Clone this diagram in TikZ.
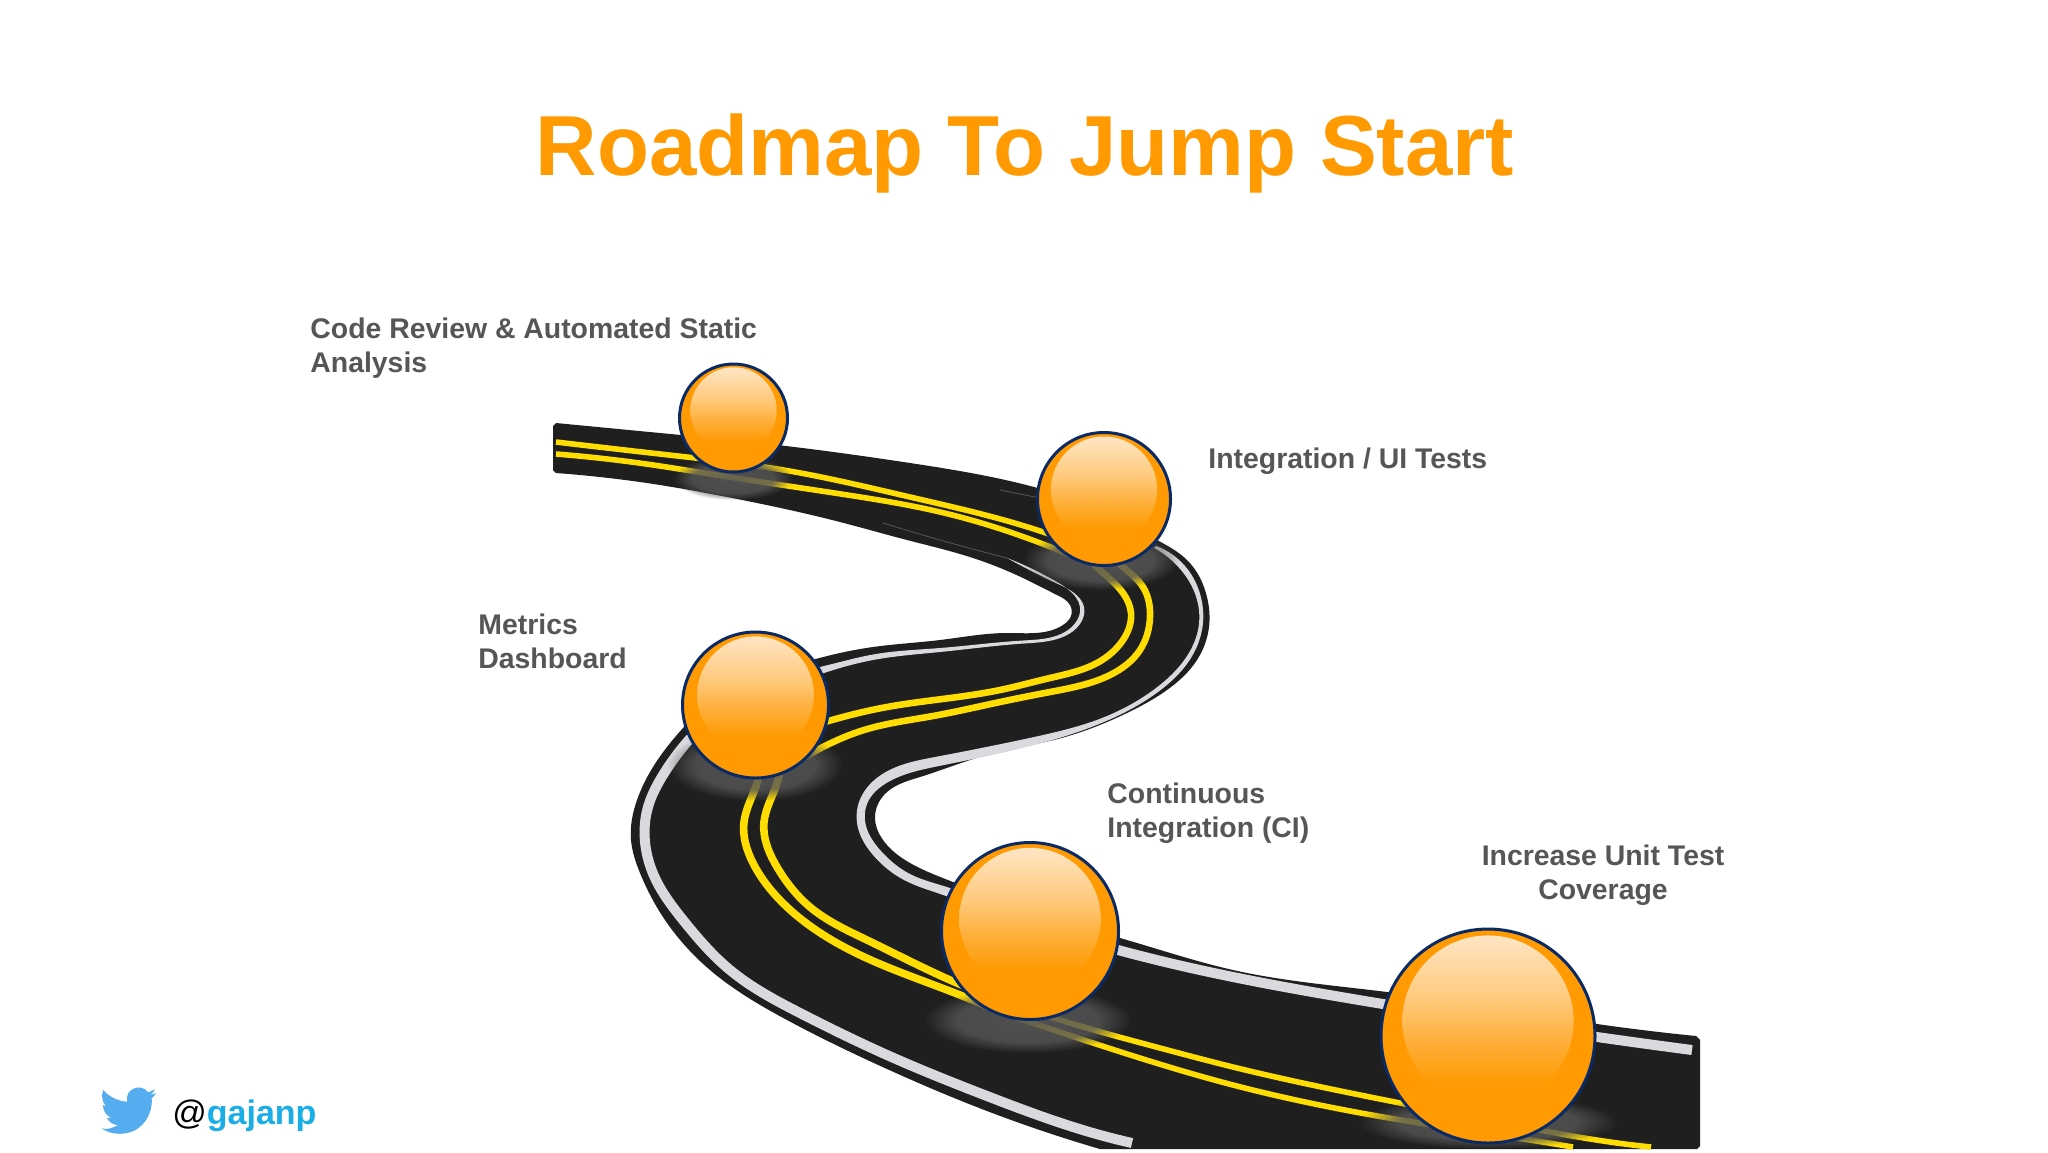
\documentclass[tikz,border=0pt]{standalone}
\usepackage{fontspec}
\setmainfont{Liberation Sans}
\usetikzlibrary{fadings,hobby}

\definecolor{roadblack}{HTML}{1F1F20}
\definecolor{stripegrey}{HTML}{DADADE}
\definecolor{lineyellow}{HTML}{FFDD00}
\definecolor{ballorange}{HTML}{FF9A03}
\definecolor{ballblue}{HTML}{0A2A66}
\definecolor{blobgrey}{HTML}{565656}
\definecolor{labelgrey}{HTML}{565658}
\definecolor{handleblue}{HTML}{1AADE6}
\definecolor{birdblue}{HTML}{55ACEE}
\definecolor{glowlow}{HTML}{FFB241}
\definecolor{glowmid}{HTML}{FFC878}
\definecolor{glowtop}{HTML}{FFE8CC}

\pgfdeclareverticalshading{ballglow}{100bp}{
  color(0bp)=(ballorange); color(39bp)=(ballorange);
  color(50bp)=(glowlow); color(58bp)=(glowmid);
  color(75bp)=(glowtop); color(100bp)=(glowtop)}
\pgfdeclareradialshading{softblobshade}{\pgfpointorigin}{
  color(0bp)=(pgftransparent!10); color(17bp)=(pgftransparent!20);
  color(25bp)=(pgftransparent!100); color(50bp)=(pgftransparent!100)}
\pgfdeclarefading{softblob}{\pgfuseshading{softblobshade}}

\begin{document}
\begin{tikzpicture}[x=0.5pt,y=-0.5pt,use Hobby shortcut,
            yellowline/.style={draw=lineyellow,line width=#1},
            greyline/.style={draw=stripegrey,line width=#1},
            blob/.style={fill=blobgrey,path fading=softblob},
            ball/.style={circle,draw=ballblue,line width=1.5pt,fill=ballorange,inner sep=0pt,
                minimum size=#1 pt,
                path picture={\shade[shading=ballglow]
                    ([yshift={0.07*#1 pt}]path picture bounding box.center) circle ({0.4*#1 pt});}},
            mark text/.style={font=\bfseries\fontsize{14.2}{17}\selectfont,text=labelgrey,inner sep=0pt}]
            \useasboundingbox[fill=white] (0,0) rectangle (2048,1152);

            \node[font=\bfseries\fontsize{42.6}{50}\selectfont,text=ballorange,anchor=base,inner sep=0pt]
                (title) at (1025,175) {Roadmap To Jump Start};

            % road surface
            \fill[roadblack]
                (556,423) .. (660,433) .. (786,446) .. (910,463) .. (1034,487) .. (1100,510)
                    .. (1157,540) .. (1187,560) .. (1207,597) .. (1209,627) .. (1197,660) .. (1167,690) .. (1127,713)
                    .. (1065,737) .. (980,757) .. (920,777) .. (887,792) .. (875,817) .. (883,840) .. (910,863)
                    .. (953,882) .. (1030,912) .. (1120,938) .. (1233,970) .. (1387,992) .. (1597,1024) .. (1696,1036)
                -- (1700,1040) -- (1700,1146) -- (1697,1149) -- (1100,1149)
                .. (987,1111) .. (887,1069) .. (787,1020) .. (710,970) .. (663,917)
                    .. (640,873) .. (631,840) .. (637,800) .. (653,767) .. (683,728) .. (730,688) .. (790,666)
                    .. (840,653) .. (873,647) .. (940,640) .. (1007,633) .. (1063,625) .. (1071,616) .. (1070,605)
                    .. (1057,595) .. (1023,578) .. (973,558) .. (907,540) .. (840,522) .. (727,497) .. (660,485) .. (556,473)
                -- (553,470) -- (553,426) -- cycle;

            % grey edge lines
            \draw[greyline=5pt] (700,728) .. (663,775) .. (648,807) .. (645,842) .. (655,878)
                .. (683,920) .. (730,970) .. (800,1013) .. (887,1055) .. (987,1096) .. (1100,1135) .. (1132,1143);
            \draw[greyline=5pt] (1100,945) .. (1118,950) .. (1233,977) .. (1383,1004)
                .. (1597,1037) .. (1692,1050);
            \fill[stripegrey]
                (1156,546) .. (1185,566) .. (1202,602) .. (1202,630) .. (1189,661) .. (1158,692)
                    .. (1104,722) .. (1038,744) .. (939,766) .. (890,781) .. (867,804) .. (866,826) .. (881,851)
                    .. (910,874) .. (950,888) .. (980,901)
                -- (976,909) .. (946,896) .. (904,880) .. (873,855) .. (858,828) .. (859,802) .. (884,773)
                    .. (935,757) .. (1034,737) .. (1102,718) .. (1156,688) .. (1185,659) .. (1198,630) .. (1198,604)
                    .. (1181,570) .. (1154,548)
                -- cycle;
            \fill[stripegrey]
                (1007,558) .. (1057,583.5) .. (1078,596.5) .. (1084,607) .. (1080,624) .. (1064,636.5)
                    .. (1024,643.5) .. (940,652) .. (873,660) .. (840,668) .. (800,682)
                -- (800,672) .. (840,662) .. (873,654.5) .. (940,648) .. (1023,640.5) .. (1062,633.5)
                    .. (1076,622) .. (1080,607) .. (1076,597.5) .. (1057,582) .. (1007,558) -- cycle;
            \draw[stripegrey!30!roadblack,line width=0.4pt] (883,523) .. (940,540) .. (1007,558);
            \draw[stripegrey!30!roadblack,line width=0.4pt] (1000,490) -- (1040,498);

            % yellow lines
            \draw[yellowline=2.8pt] (556,442) .. (660,454) .. (795,472) .. (840,481) .. (910,497) .. (1040,531) .. (1060,538);
            \draw[yellowline=2.8pt] (556,454) .. (660,466) .. (704,473) .. (841,494) .. (940,512) .. (1053,548) .. (1070,555);
            \draw[yellowline=3.3pt] (1090,560) .. (1100,570) .. (1123,593) .. (1131,613) .. (1123,640)
                .. (1097,663) .. (1050,678) .. (1000,690) .. (887,707) .. (832,720) .. (800,730);
            \draw[yellowline=3.3pt] (1110,555) .. (1123,567) .. (1143,587) .. (1150,617) .. (1140,650)
                .. (1110,675) .. (1050,692) .. (1000,702) .. (933,716) .. (864,730) .. (823,747) .. (800,760);
            \draw[yellowline=3.8pt] (760,770) .. (757,783) .. (744,822) .. (753,863) .. (787,907)
                .. (860,955) .. (960,995) .. (1000,1012);
            \draw[yellowline=3.8pt] (780,770) .. (777,783) .. (764,822) .. (777,867) .. (810,907)
                .. (867,940) .. (950,980) .. (1000,1000);
            \draw[yellowline=2.8pt] (1000,1012) .. (1093,1043) .. (1233,1085)
                .. (1413,1122) .. (1530,1140) .. (1573,1147);
            \draw[yellowline=2.8pt] (1000,1000) .. (1060,1020) .. (1160,1048) .. (1233,1067)
                .. (1400,1103) .. (1550,1132) .. (1610,1142) .. (1651,1147);

            % blobs under the balls
            \fill[blob] (733,478) ellipse (60 and 22);
            \fill[blob] (1101,560) ellipse (78 and 30);
            \fill[blob] (755,765) ellipse (88 and 36);
            \fill[blob] (1028,1020) ellipse (104 and 33);
            \fill[blob] (1488,1122) ellipse (130 and 27);

            % balls
            \node[ball=54] (ball_1) at (733.5,418) {};
            \node[ball=66.5] (ball_2) at (1104,499) {};
            \node[ball=73] (ball_3) at (755.5,705) {};
            \node[ball=88.5] (ball_4) at (1030,931) {};
            \node[ball=107] (ball_5) at (1488,1036) {};

            % labels
            \node[mark text,align=left,anchor=north west] (code) at (310,318) {Code Review \& Automated Static\\Analysis};
            \node[mark text,anchor=base west] (integration) at (1208,468) {Integration / UI Tests};
            \node[mark text,align=left,anchor=north west] (metrics) at (478,614) {Metrics\\Dashboard};
            \node[mark text,align=left,anchor=north west] (ci) at (1107,783) {Continuous\\Integration (CI)};
            \node[mark text,align=center,anchor=north] (unit) at (1603,845) {Increase Unit Test\\Coverage};

            % twitter handle
            \fill[birdblue] (127.3,1101.7) .. controls (117,1101) and (108,1096) .. (103.3,1090)
                .. controls (101,1096) and (102,1102) .. (106,1106) -- (103,1105)
                .. controls (103,1111) and (106,1115) .. (111,1118) -- (107,1118)
                .. controls (109,1122) and (113,1125) .. (118,1125)
                .. controls (113,1128) and (107,1130) .. (101.7,1128.3)
                .. controls (108,1133) and (118,1135) .. (127,1133)
                .. controls (143,1130) and (153,1114) .. (151.7,1098.3)
                .. controls (153,1097) and (155,1095) .. (156,1093.3) -- (150.7,1094.5)
                .. controls (153,1093) and (154,1091) .. (155,1089.3) -- (148.3,1092.3)
                .. controls (145,1088) and (139,1086) .. (134,1088.5)
                .. controls (128,1091) and (126,1096) .. (127.3,1101.7) -- cycle;
            \node[font=\fontsize{17}{20}\selectfont,anchor=base west,inner sep=0pt] (handle) at (172,1124)
                {@\textcolor{handleblue}{\bfseries gajanp}};
      \end{tikzpicture}
\end{document}
